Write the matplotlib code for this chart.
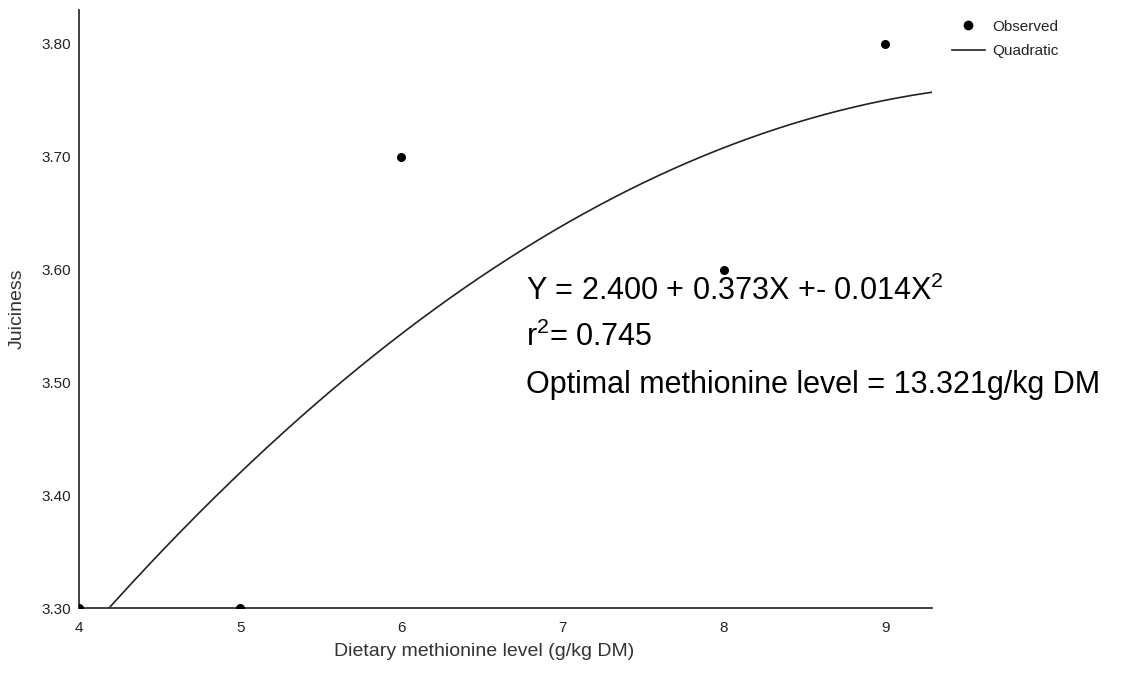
import numpy as np
import matplotlib
matplotlib.use('Agg')
import matplotlib.pyplot as plt
from matplotlib.lines import Line2D

plt.rcParams['font.family'] = ['Liberation Sans', 'DejaVu Sans']
plt.rcParams['mathtext.fontset'] = 'custom'
plt.rcParams['mathtext.rm'] = 'Liberation Sans'
plt.rcParams['mathtext.it'] = 'Liberation Sans'

# =============================================================================
# Data
# =============================================================================

# Observed means (dietary methionine level, juiciness score)
methionine = [4, 5, 6, 8, 9]
juiciness = [3.30, 3.30, 3.70, 3.60, 3.80]

# Quadratic fit as drawn: Y = a + bX + cX^2
fit_a = 2.400
fit_b = 0.2715
fit_c = -0.0135

x_ticks = [4, 5, 6, 7, 8, 9]
y_ticks = [3.30, 3.40, 3.50, 3.60, 3.70, 3.80]

eq_lines = [
    r'Y = 2.400 + 0.373X +- 0.014X$^{2}$',
    r'r$^{2}$= 0.745',
    'Optimal methionine level = 13.321g/kg DM',
]

# =============================================================================
# Plot
# =============================================================================

fig = plt.figure(figsize=(11.35, 6.87), dpi=100)
ax = fig.add_axes([79 / 1135, 79 / 687, (932 - 79) / 1135, (608 - 10) / 687])

x_min, x_max = 4.0, 9.29
y_min, y_max = 3.30, 3.83

xs = np.linspace(x_min, x_max, 400)
ys = fit_a + fit_b * xs + fit_c * xs ** 2
ax.plot(xs, ys, color='#222222', lw=1.2)
ax.scatter(methionine, juiciness, s=30, color='black', zorder=3)

ax.set_xlim(x_min, x_max)
ax.set_ylim(y_min, y_max)
ax.set_xticks(x_ticks)
ax.set_yticks(y_ticks)
ax.set_yticklabels([f'{v:.2f}' for v in y_ticks])
ax.tick_params(length=0, labelsize=11, colors='#222222')
ax.tick_params(axis='y', pad=6)
ax.tick_params(axis='x', pad=9)

for side in ['top', 'right']:
    ax.spines[side].set_visible(False)
for side in ['left', 'bottom']:
    ax.spines[side].set_color('#333333')
    ax.spines[side].set_linewidth(1.3)

ax.set_xlabel('Dietary methionine level (g/kg DM)', fontsize=14, color='#333333')
ax.xaxis.set_label_coords((484 - 79) / 853, -0.058)
ax.set_ylabel('Juiciness', fontsize=14, color='#333333', labelpad=11)

for i, line in enumerate(eq_lines):
    ax.text(526 / 1135, (687 - 300 - i * 46.5) / 687, line, transform=fig.transFigure,
            fontsize=22, color='black', va='baseline', ha='left')

handles = [
    Line2D([], [], marker='o', ls='none', color='black', markersize=6),
    Line2D([], [], color='#222222', lw=1.2),
]
fig.legend(handles, ['Observed', 'Quadratic'], loc='upper left',
           bbox_to_anchor=(944 / 1135, 1 - 12 / 687), frameon=False,
           fontsize=11, handlelength=2.2, handletextpad=0.45, labelspacing=0.7,
           borderpad=0, labelcolor='#222222')

fig.savefig('out.png', dpi=100)
